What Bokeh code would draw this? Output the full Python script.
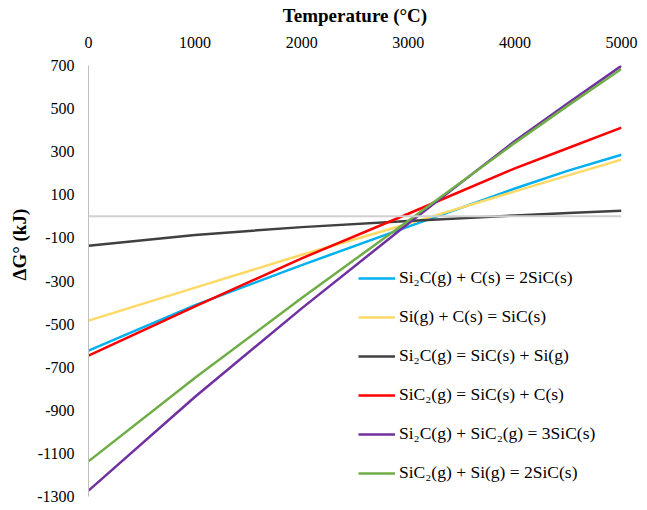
from bokeh.plotting import figure
from bokeh.models import (Range1d, FixedTicker, Span, Title, Legend, LegendItem,
                          PrintfTickFormatter)
from bokeh.embed import file_html
from bokeh.resources import INLINE

temperature = [0, 1000, 2000, 3000, 4000, 4500, 5000]
si2c_c = [-623, -412, -226, -48, 129, 212, 286]
si_c = [-484, -331, -178, -34, 116, 190, 263]
si2c_dec = [-136, -86, -50, -22, 4, 15, 26]
sic2_dec = [-646, -418, -195, 12, 223, 317, 412]
si2c_sic2 = [-1273, -837, -427, -33, 350, 526, 699]
sic2_si = [-1137, -749, -379, -20, 341, 515, 684]

labels = [
    "Si\u2082C(g) + C(s) = 2SiC(s)",
    "Si(g) + C(s) = SiC(s)",
    "Si\u2082C(g) = SiC(s) + Si(g)",
    "SiC\u2082(g) = SiC(s) + C(s)",
    "Si\u2082C(g) + SiC\u2082(g) = 3SiC(s)",
    "SiC\u2082(g) + Si(g) = 2SiC(s)",
]
series = [si2c_c, si_c, si2c_dec, sic2_dec, si2c_sic2, sic2_si]
colors = ["#00b0f0", "#ffd966", "#404040", "#ff0000", "#7030a0", "#70ad47"]

x_ticks = [0, 1000, 2000, 3000, 4000, 5000]
y_ticks = [-1300, -1100, -900, -700, -500, -300, -100, 100, 300, 500, 700]

FONT = "Liberation Serif"

p = figure(width=647, height=510, output_backend="svg", toolbar_location=None,
           x_range=Range1d(0, 5000), y_range=Range1d(-1300, 700),
           x_axis_location="above", min_border_left=88, min_border_right=26,
           min_border_top=65, min_border_bottom=14)
p.outline_line_color = None
p.xgrid.visible = False
p.ygrid.visible = False

# x axis (top)
xa = p.xaxis[0]
xa.ticker = FixedTicker(ticks=x_ticks)
xa.formatter = PrintfTickFormatter(format="%d")
xa.axis_line_color = None
xa.major_tick_line_color = None
xa.minor_tick_line_color = None
xa.major_label_text_font = FONT
xa.major_label_text_font_size = "16px"
xa.major_label_text_color = "#000000"
xa.major_label_standoff = 12
xa.axis_label = "Temperature (\u00b0C)"
xa.axis_label_text_font = FONT
xa.axis_label_text_font_size = "19px"
xa.axis_label_text_font_style = "bold"
xa.axis_label_text_color = "#000000"
xa.axis_label_standoff = 8

# y axis
ya = p.yaxis[0]
ya.ticker = FixedTicker(ticks=y_ticks)
ya.formatter = PrintfTickFormatter(format="%d")
ya.axis_line_color = "#bfbfbf"
ya.axis_line_width = 1
ya.major_tick_line_color = None
ya.minor_tick_line_color = None
ya.major_label_text_font = FONT
ya.major_label_text_font_size = "16px"
ya.major_label_text_color = "#000000"
ya.major_label_standoff = 8

p.add_layout(Span(location=0, dimension="width", line_color="#d0d0d0", line_width=2))

items = []
for lab, ys, c in zip(labels, series, colors):
    r = p.line(temperature, ys, line_color=c, line_width=2.5)
    items.append(LegendItem(label=lab, renderers=[r]))

legend = Legend(items=items, location=(270, 13), orientation="vertical",
                label_text_font=FONT, label_text_font_size="17.5px",
                label_text_color="#000000", glyph_width=37, glyph_height=20,
                label_height=20, spacing=18, label_standoff=4, padding=0,
                margin=0, border_line_color=None, background_fill_alpha=0)
p.add_layout(legend)

p.add_layout(Title(text="\u0394G\u00b0 (kJ)", align="left", offset=216,
                   text_font=FONT, text_font_size="19px", text_font_style="bold",
                   text_color="#000000"), "left")

open("out.html", "w").write(file_html(p, INLINE))
